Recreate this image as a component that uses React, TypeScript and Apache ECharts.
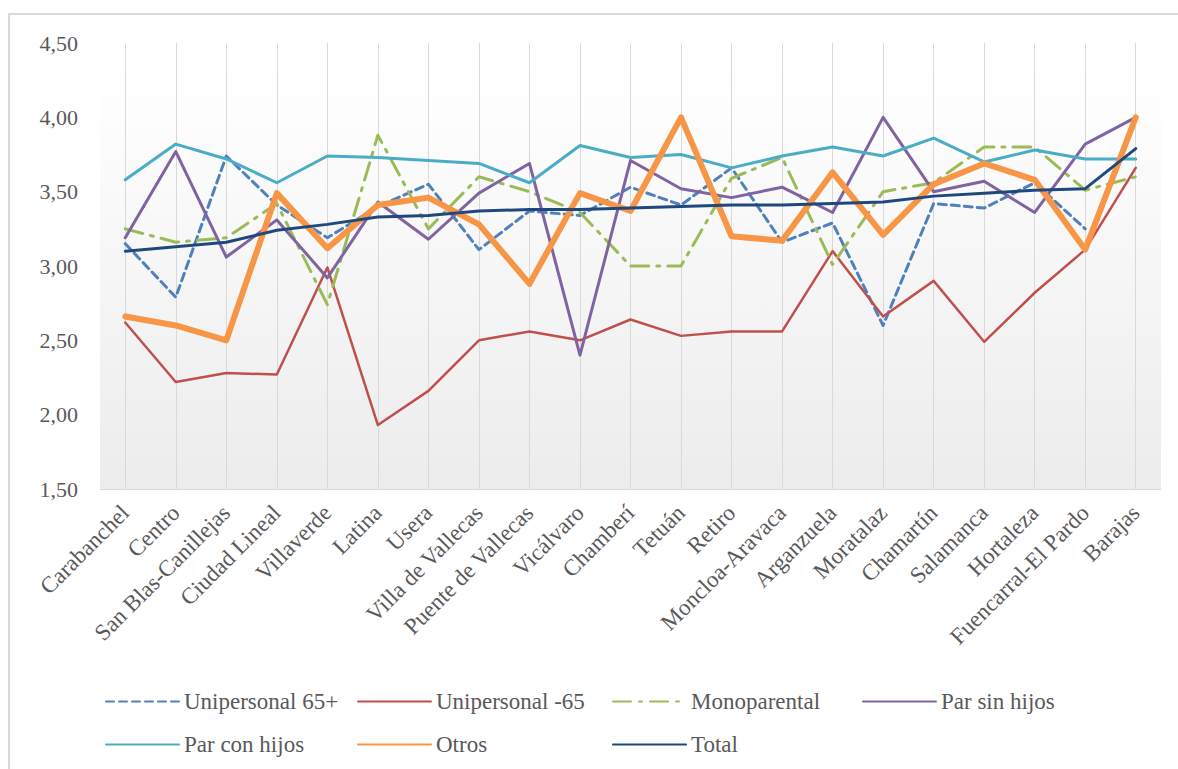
import React, { useEffect, useRef } from "react";
import * as echarts from "echarts";

const categories = [
  "Carabanchel", "Centro", "San Blas-Canillejas", "Ciudad Lineal", "Villaverde",
  "Latina", "Usera", "Villa de Vallecas", "Puente de Vallecas", "Vicálvaro",
  "Chamberí", "Tetuán", "Retiro", "Moncloa-Aravaca", "Arganzuela", "Moratalaz",
  "Chamartín", "Salamanca", "Hortaleza", "Fuencarral-El Pardo", "Barajas",
];

const unipersonal65Mas = [3.15, 2.79, 3.74, 3.41, 3.19, 3.40, 3.55, 3.11, 3.37, 3.34, 3.53, 3.41, 3.66, 3.16, 3.29, 2.60, 3.42, 3.39, 3.56, 3.25, null];
const unipersonalMenos65 = [2.62, 2.22, 2.28, 2.27, 2.99, 1.93, 2.16, 2.50, 2.56, 2.50, 2.64, 2.53, 2.56, 2.56, 3.10, 2.66, 2.90, 2.49, 2.82, 3.11, 3.66];
const monoparental = [3.25, 3.16, 3.19, 3.42, 2.74, 3.88, 3.25, 3.60, 3.50, 3.36, 3.00, 3.00, 3.59, 3.73, 3.01, 3.50, 3.56, 3.80, 3.80, 3.51, 3.60];
const parSinHijos = [3.19, 3.77, 3.06, 3.31, 2.92, 3.43, 3.18, 3.49, 3.69, 2.40, 3.71, 3.52, 3.46, 3.53, 3.36, 4.00, 3.50, 3.57, 3.36, 3.82, 4.00];
const parConHijos = [3.58, 3.82, 3.72, 3.56, 3.74, 3.73, 3.71, 3.69, 3.56, 3.81, 3.73, 3.75, 3.66, 3.74, 3.80, 3.74, 3.86, 3.70, 3.78, 3.72, 3.72];
const otros = [2.66, 2.60, 2.50, 3.49, 3.12, 3.41, 3.46, 3.28, 2.88, 3.49, 3.37, 4.00, 3.20, 3.17, 3.63, 3.21, 3.55, 3.69, 3.58, 3.11, 4.00];
const total = [3.10, 3.13, 3.16, 3.24, 3.28, 3.33, 3.34, 3.37, 3.38, 3.38, 3.39, 3.40, 3.41, 3.41, 3.42, 3.43, 3.47, 3.49, 3.51, 3.52, 3.79];

const seriesNames = [
  "Unipersonal 65+", "Unipersonal -65", "Monoparental", "Par sin hijos",
  "Par con hijos", "Otros", "Total",
];

const FONT = "'Liberation Serif', 'DejaVu Serif', serif";
const TEXT = "#595959";

export default function App() {
  const ref = useRef<HTMLDivElement>(null);

  useEffect(() => {
    document.body.style.margin = "0";
    if (!ref.current) return;
    const chart = echarts.init(ref.current, null, { renderer: "svg" });

    const mk = (name: string, data: (number | null)[], color: string, width: number, type: any, z = 2) => ({
      name,
      type: "line",
      data,
      symbol: "circle",
      symbolSize: 0,
      showSymbol: false,
      connectNulls: false,
      z,
      lineStyle: { color, width, type, cap: "round", join: "round" },
      itemStyle: { color },
    });

    const legendPos = [
      { left: 105, top: 690 },
      { left: 357, top: 690 },
      { left: 612, top: 690 },
      { left: 862, top: 690 },
      { left: 105, top: 733 },
      { left: 357, top: 733 },
      { left: 612, top: 733 },
    ];

    const option: any = {
      animation: false,
      backgroundColor: "#ffffff",
      textStyle: { fontFamily: FONT },
      graphic: [
        {
          type: "rect",
          shape: { x: 9, y: 14, width: 1400, height: 900 },
          style: { fill: "none", stroke: "#d9d9d9", lineWidth: 2 },
          silent: true,
          z: -10,
        },
      ],
      legend: seriesNames.map((n, i) => ({
        data: [n],
        left: legendPos[i].left,
        top: legendPos[i].top,
        itemWidth: 73,
        itemHeight: 14,
        itemGap: 0,
        padding: 0,
        selectedMode: false,
        itemStyle: { opacity: 0, borderWidth: 0 },
        textStyle: { fontFamily: FONT, fontSize: 23, color: TEXT },
      })),
      grid: {
        left: 100,
        right: 17,
        top: 43,
        bottom: 280,
        show: true,
        borderWidth: 0,
        backgroundColor: new echarts.graphic.LinearGradient(0, 0, 0, 1, [
          { offset: 0, color: "#ffffff" },
          { offset: 0.12, color: "#fefefe" },
          { offset: 1, color: "#ececec" },
        ]),
      },
      xAxis: {
        type: "category",
        data: categories,
        boundaryGap: true,
        axisLine: { show: true, lineStyle: { color: "#d9d9d9", width: 1 } },
        axisTick: { show: false },
        splitLine: { show: true, alignWithLabel: true, lineStyle: { color: "#d9d9d9", width: 1 } },
        axisLabel: {
          interval: 0,
          rotate: 45,
          margin: 20,
          fontFamily: FONT,
          fontSize: 23,
          color: TEXT,
        },
      },
      yAxis: {
        type: "value",
        min: 1.5,
        max: 4.5,
        interval: 0.5,
        axisLine: { show: false },
        axisTick: { show: false },
        splitLine: { show: false },
        axisLabel: {
          margin: 22,
          fontFamily: FONT,
          fontSize: 22,
          color: TEXT,
          formatter: (v: number) => v.toFixed(2).replace(".", ","),
        },
      },
      series: [
        mk(seriesNames[0], unipersonal65Mas, "#4F81BD", 3, [8, 5]),
        mk(seriesNames[1], unipersonalMenos65, "#C0504D", 2.5, "solid"),
        mk(seriesNames[2], monoparental, "#9BBB59", 3, [18, 8, 3, 8]),
        mk(seriesNames[3], parSinHijos, "#8064A2", 3, "solid"),
        mk(seriesNames[4], parConHijos, "#4BACC6", 3, "solid"),
        mk(seriesNames[5], otros, "#F79646", 6, "solid"),
        mk(seriesNames[6], total, "#1F497D", 3, "solid"),
      ],
    };

    chart.setOption(option);
    return () => chart.dispose();
  }, []);

  return <div ref={ref} style={{ width: 1178, height: 769 }} />;
}
